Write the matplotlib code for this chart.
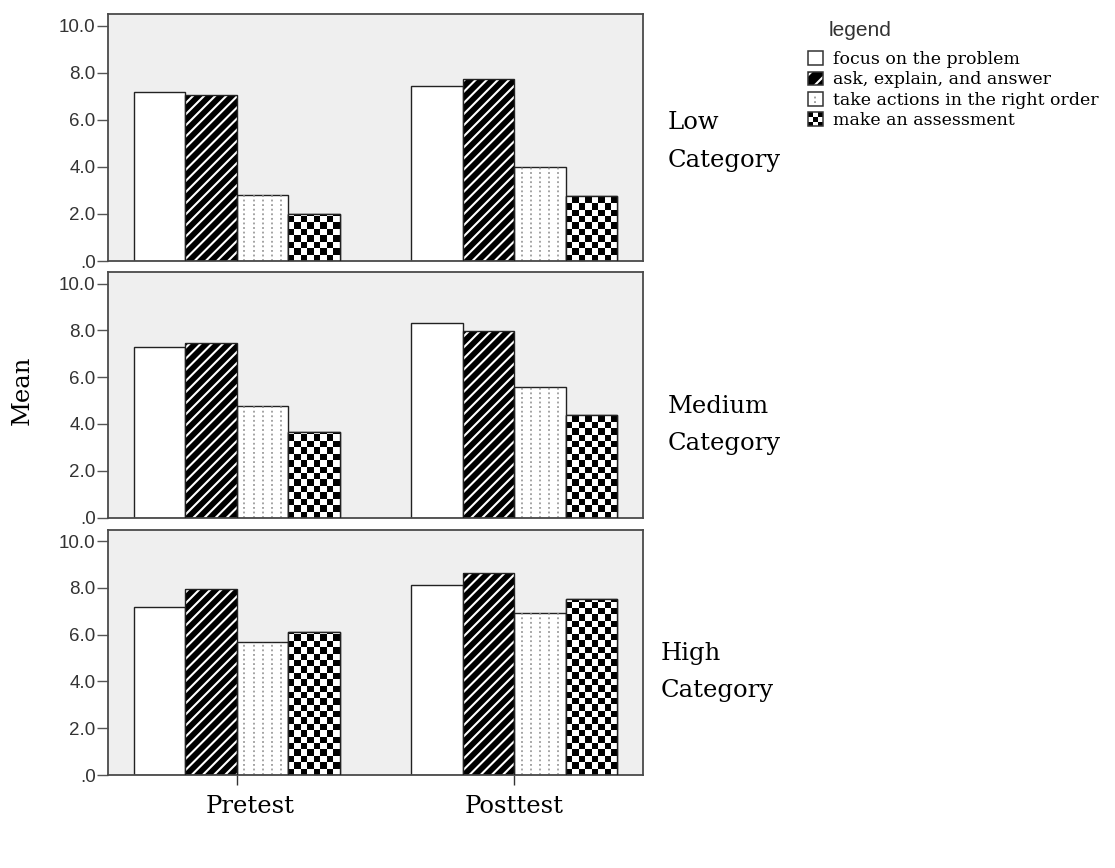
import numpy as np
import matplotlib
matplotlib.use("Agg")
import matplotlib.pyplot as plt
from matplotlib.patches import Patch, Rectangle
from matplotlib.lines import Line2D
from matplotlib.legend_handler import HandlerBase
from matplotlib.ticker import FuncFormatter

# data: one row per panel (Low, Medium, High), columns = (Pretest, Posttest)
panels = ["Low", "Medium", "High"]
tests = ["Pretest", "Posttest"]
series = ["focus on the problem", "ask, explain, and answer",
          "take actions in the right order", "make an assessment"]
focus = [[7.17, 7.43], [7.28, 8.31], [7.19, 8.12]]
ask = [[7.07, 7.75], [7.48, 7.96], [7.96, 8.63]]
take = [[2.80, 4.00], [4.76, 5.57], [5.68, 6.94]]
assess = [[1.99, 2.76], [3.65, 4.38], [6.11, 7.53]]
yticks = [0, 2, 4, 6, 8, 10]

SERIF = "DejaVu Serif"
SANS = "Liberation Sans"
plt.rcParams["hatch.linewidth"] = 1.5

W, H = 1115, 868
fig = plt.figure(figsize=(W / 100, H / 100), dpi=100)


def px_box(x0, y0, x1, y1):
    return [x0 / W, 1 - y1 / H, (x1 - x0) / W, (y1 - y0) / H]


panel_px = [(14, 261), (272, 517.5), (529.5, 775)]
label_pos = [(668, 129, 167), (668, 413, 450), (661, 660, 697)]

bw = 0.186
x = np.arange(len(tests))
offsets = (np.arange(4) - 1.5) * bw
sq_px = 6.4          # checker square size in pixels
px_per_unit = 23.43


def yfmt(v, pos):
    s = f"{v:.1f}"
    return s[1:] if s.startswith("0") else s


for p, (top, bot) in enumerate(panel_px):
    ax = fig.add_axes(px_box(108, top, 643, bot))
    ax.set_facecolor("#efefef")

    # focus: plain white
    ax.bar(x + offsets[0], focus[p], bw, color="white", edgecolor="#222", lw=1.0, zorder=2)

    # ask: black with white diagonal stripes
    ax.bar(x + offsets[1], ask[p], bw, color="black", edgecolor="white", hatch="///", lw=0, zorder=2)
    ax.bar(x + offsets[1], ask[p], bw, fill=False, edgecolor="#222", lw=1.0, zorder=3)

    # take: white with dotted vertical lines
    take_bars = ax.bar(x + offsets[2], take[p], bw, color="white", edgecolor="#222", lw=1.0, zorder=2)
    for rect in take_bars:
        x0 = rect.get_x()
        xs = x0 + rect.get_width() * np.array([0.15, 0.325, 0.5, 0.675, 0.85])
        vl = ax.vlines(xs, 0, rect.get_height(), colors="#8a8a8a", lw=1.1,
                       linestyles=(0, (1.2, 1.8)), zorder=2.5)
        vl.set_clip_path(rect)

    # assess: checkerboard
    assess_bars = ax.bar(x + offsets[3], assess[p], bw, color="white", edgecolor="#222", lw=1.0, zorder=2)
    sq = sq_px / px_per_unit
    for rect in assess_bars:
        x0, w, h = rect.get_x(), rect.get_width(), rect.get_height()
        nrow = int(np.ceil(h / sq))
        grid = (np.add.outer(np.arange(nrow), np.arange(8)) % 2).astype(float)
        im = ax.imshow(grid, cmap="gray", vmin=0, vmax=1, origin="lower",
                       extent=(x0, x0 + w, 0, nrow * sq), interpolation="nearest",
                       aspect="auto", zorder=2.2)
        im.set_clip_path(rect)
    ax.bar(x + offsets[3], assess[p], bw, fill=False, edgecolor="#222", lw=1.0, zorder=3)

    ax.set_xlim(-0.464, 1.464)
    ax.set_ylim(0, 10.5)
    ax.set_yticks(yticks)
    ax.yaxis.set_major_formatter(FuncFormatter(yfmt))
    ax.tick_params(axis="y", length=8, width=1.0, color="#555", pad=1,
                   labelsize=13.5, labelcolor="#333")
    for lab in ax.get_yticklabels():
        lab.set_family(SANS)
    for sp in ax.spines.values():
        sp.set_color("#4a4a4a")
        sp.set_linewidth(1.3)

    if p == len(panel_px) - 1:
        ax.set_xticks(x)
        ax.set_xticklabels([])
        ax.tick_params(axis="x", length=7, width=1.0, color="#333")
        for i, name in enumerate(tests):
            dx = 13 if i == 0 else 0
            ax.annotate(name, xy=(x[i], 0), xycoords=("data", "axes fraction"),
                        xytext=(dx, -38), textcoords="offset pixels",
                        ha="center", va="baseline", fontsize=17.5, family=SERIF)
    else:
        ax.set_xticks([])

    lx, b1, b2 = label_pos[p]
    fig.text(lx / W, 1 - b1 / H, panels[p], fontsize=17.5, family=SERIF, va="baseline")
    fig.text(lx / W, 1 - b2 / H, "Category", fontsize=17.5, family=SERIF, va="baseline")

fig.text(22 / W, 1 - 390 / H, "Mean", rotation=90, ha="center", va="center",
         fontsize=17.5, family=SERIF)


class SwatchHandler(HandlerBase):
    def __init__(self, kind):
        super().__init__()
        self.kind = kind

    def create_artists(self, legend, orig_handle, xdescent, ydescent,
                       width, height, fontsize, trans):
        x0, y0 = -xdescent, -ydescent
        arts = [Rectangle((x0, y0), width, height, facecolor="white", lw=0, transform=trans)]
        if self.kind == "ask":
            arts.append(Rectangle((x0, y0), width, height, facecolor="black",
                                  edgecolor="white", hatch="//", lw=0, transform=trans))
        elif self.kind == "take":
            arts.append(Line2D([x0 + width / 2] * 2, [y0 + height * 0.2, y0 + height * 0.8],
                               ls=(0, (1.2, 1.8)), color="#888", lw=1.1, transform=trans))
        elif self.kind == "assess":
            n = 3
            for i in range(n):
                for j in range(n):
                    if (i + j) % 2 == 0:
                        arts.append(Rectangle((x0 + i * width / n, y0 + j * height / n),
                                              width / n, height / n, facecolor="black",
                                              lw=0, transform=trans))
        arts.append(Rectangle((x0, y0), width, height, fill=False,
                              edgecolor="#333", lw=1.1, transform=trans))
        return arts


kinds = ["focus", "ask", "take", "assess"]
handles = [Patch(label=s) for s in series]
fig.legend(handles, series, loc="upper left", bbox_to_anchor=(808 / W, 1 - 51 / H),
           frameon=False, prop={"family": SERIF, "size": 12.5},
           handlelength=0.85, handleheight=0.85, handletextpad=0.6,
           borderpad=0, borderaxespad=0, labelspacing=0.2,
           handler_map={h: SwatchHandler(k) for h, k in zip(handles, kinds)})
fig.text(829 / W, 1 - 30 / H, "legend", fontsize=15, family=SANS, color="#333", va="center")

plt.savefig("out.png", dpi=100)
